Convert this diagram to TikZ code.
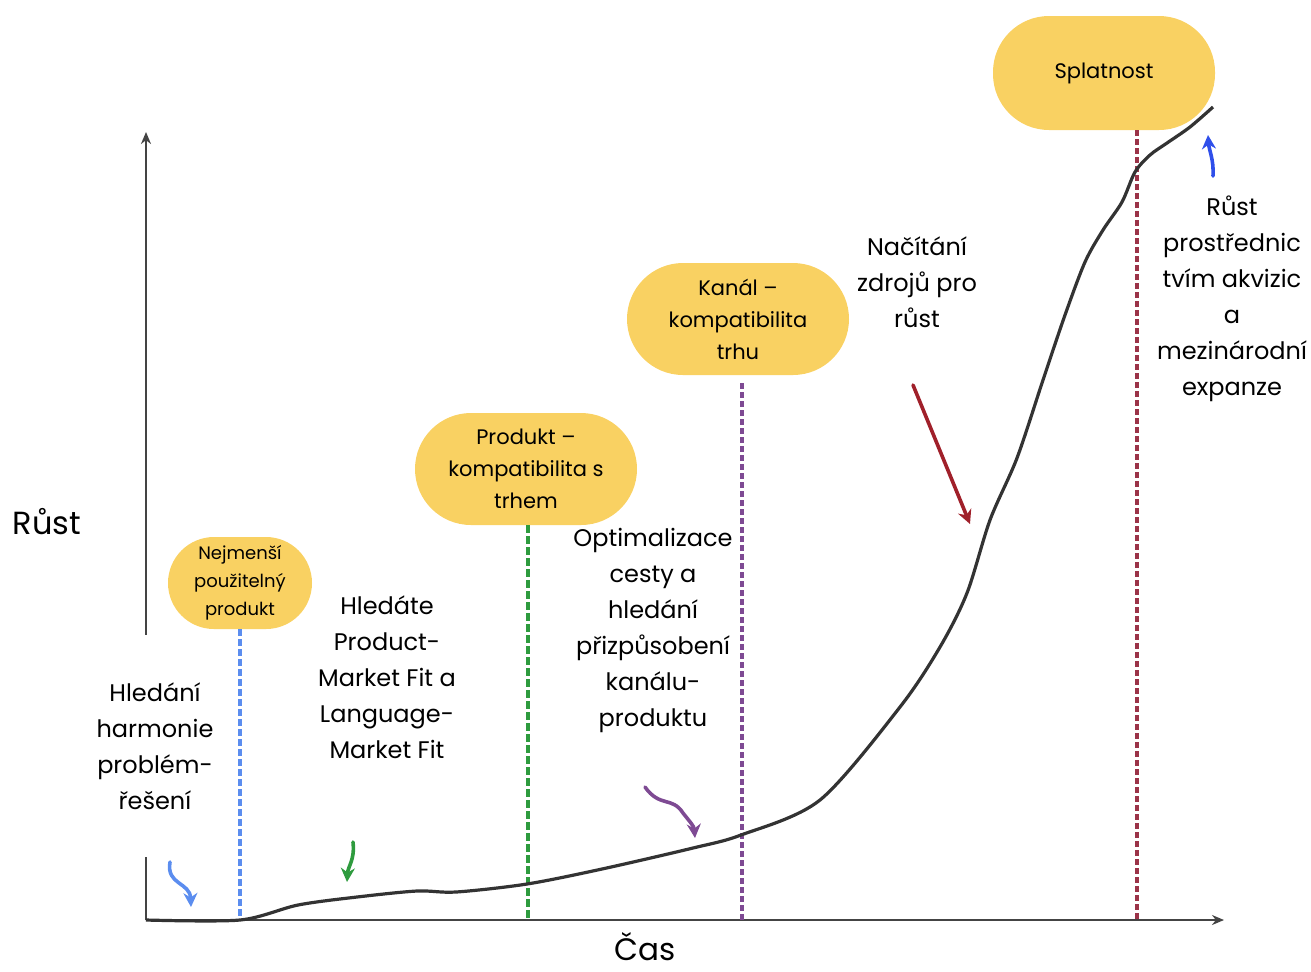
\documentclass[tikz,border=0pt]{standalone}
\usepackage{fontspec}
\setmainfont{Poppins}
\usetikzlibrary{arrows.meta}

\definecolor{pillyellow}{HTML}{F9D162}
\definecolor{axisgray}{HTML}{444444}
\definecolor{curvegray}{HTML}{333333}
\definecolor{mvpblue}{HTML}{5B8DEF}
\definecolor{pmfgreen}{HTML}{2E9B3E}
\definecolor{cmfpurple}{HTML}{7E4A93}
\definecolor{maturered}{HTML}{9B3348}
\definecolor{arrowred}{HTML}{A0202A}
\definecolor{arrowblue}{HTML}{2F4FEA}

\begin{document}
\begin{tikzpicture}[x=0.5pt, y=-0.5pt]
    \useasboundingbox (0,0) rectangle (1311,971);
    \begin{scope}[pill/.style={fill=pillyellow, rounded corners=28pt, minimum width=111pt, minimum height=56pt, align=center, inner sep=0pt, font=\fontsize{10.5}{16}\selectfont},
        note/.style={align=center, inner sep=1pt, font=\fontsize{12}{18}\selectfont},
        stage/.style={line width=1.7pt, dash pattern=on 3pt off 1.5pt},
        hand/.style={line width=1.8pt, line cap=round, -{Stealth[length=7pt, width=7pt]}}]

        % axes
        \coordinate (o) at (146, 920);
        \coordinate (ytip) at (146, 132);
        \coordinate (xtip) at (1224, 920);
        \draw[axisgray, line width=1.2pt, -{Stealth[length=6pt, width=5pt]}] (o) -- (ytip);
        \draw[axisgray, line width=1.2pt, -{Stealth[length=6pt, width=5pt]}] (o) -- (xtip);
        \node[inner sep=0pt, font=\fontsize{16}{19}\selectfont] (lbly) at (47, 522) {Růst};
        \node[inner sep=0pt, font=\fontsize{15.5}{19}\selectfont] (lblx) at (645, 947) {Čas};

        % stages
        \node[pill, minimum width=72pt, minimum height=46pt, rounded corners=23pt, font=\fontsize{9}{14}\selectfont]
            (s1) at (240, 583) {Nejmenší\\použitelný\\produkt};
        \node[pill] (s2) at (526, 469) {Produkt –\\kompatibilita s\\trhem};
        \node[pill] (s3) at (738, 319) {Kanál –\\kompatibilita\\trhu};
        \node[pill, minimum height=57pt] (s4) at (1104, 73) {Splatnost};

        \draw[stage, mvpblue, dash pattern=on 3.5pt off 1.5pt] (s1.south) -- (s1.south |- o);
        \draw[stage, pmfgreen, dash pattern=on 4pt off 1.5pt] ([xshift=1pt]s2.south) -- ([xshift=1pt]s2.south |- o);
        \draw[stage, cmfpurple] ([xshift=2pt, yshift=-4pt]s3.south) -- ([xshift=2pt]s3.south |- o);
        \draw[stage, maturered] ([xshift=16.5pt]s4.south) -- ([xshift=16.5pt]s4.south |- o);

        % notes
        \node[note, fill=white, minimum height=111pt] (t1) at (155, 746) {Hledání\\harmonie\\problém-\\řešení};
        \node[note] (t2) at (387, 677) {Hledáte\\Product-\\Market Fit a\\Language-\\Market Fit};
        \node[note] (t3) at (653, 630) {Optimalizace\\cesty a\\hledání\\přizpůsobení\\kanálu-\\produktu};
        \node[note] (t4) at (917, 282) {Načítání\\zdrojů pro\\růst};
        \node[note] (t5) at (1232, 299) {Růst\\prostřednic\\tvím akvizic\\a\\mezinárodní\\expanze};

        % growth curve
        \draw[curvegray, line width=1.6pt] plot[smooth, tension=0.5] coordinates {(146, 920) (240, 920) (298, 905) (357, 897) (417, 891) (456, 892) (527, 884) (602, 869) (693, 848) (741, 835) (820, 800) (900, 707) (940, 647) (967, 593) (990, 520) (1017, 458) (1043, 380) (1065, 315) (1085, 262) (1103, 230) (1122, 202) (1135, 172) (1150, 155) (1167, 143) (1190, 127) (1213, 107)};

        % hand arrows
        \coordinate (ha1) at (170, 862);
        \coordinate (hb1) at (191, 907);
        \coordinate (ha2) at (353, 842);
        \coordinate (hb2) at (347, 882);
        \coordinate (ha3) at (645, 787);
        \coordinate (hb3) at (695, 838);
        \coordinate (ha4) at (913, 385);
        \coordinate (hb4) at (970, 524);
        \coordinate (ha5) at (1213, 176);
        \coordinate (hb5) at (1208, 135);
        \draw[hand, mvpblue] (ha1) .. controls (166, 885) and (190, 882) .. (hb1);
        \draw[hand, pmfgreen] (ha2) .. controls (355, 860) and (348, 866) .. (hb2);
        \draw[hand, cmfpurple] (ha3) .. controls (660, 808) and (672, 796) .. (683, 813) .. controls (690, 822) and (694, 826) .. (hb3);
        \draw[hand, arrowred] (ha4) -- (hb4);
        \draw[hand, arrowblue] (ha5) .. controls (1214, 160) and (1209, 150) .. (hb5);
    \end{scope}
\end{tikzpicture}
\end{document}
